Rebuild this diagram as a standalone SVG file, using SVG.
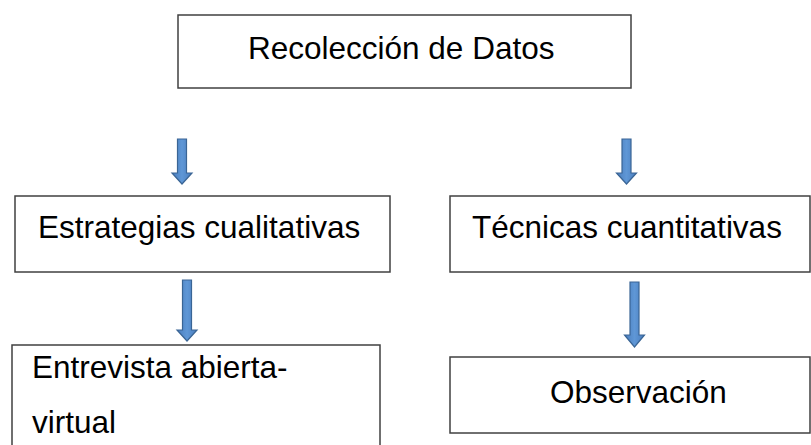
<svg xmlns="http://www.w3.org/2000/svg" width="811" height="445" viewBox="0 0 811 445">
<style>
.box{fill:#ffffff;stroke:#404040;stroke-width:1.5}
.lbl{font-family:"Liberation Sans",Arial,sans-serif;font-size:31.5px;fill:#000000}
.arr{fill:url(#ag);stroke:#3a6595;stroke-width:1.2;stroke-linejoin:miter}
</style>
<defs>
<linearGradient id="ag" x1="0" y1="0" x2="1" y2="0">
<stop offset="0" stop-color="#4a7dbd"/>
<stop offset="0.5" stop-color="#5f97d6"/>
<stop offset="1" stop-color="#4a7dbd"/>
</linearGradient>
</defs>
<rect width="811" height="445" fill="#ffffff"/>
<g id="connectors">
<path class="arr" d="M177.5,139 H186.5 V173 H192 L182,184 L172,173 H177.5 Z"/>
<path class="arr" d="M622,139 H631 V173 H636.5 L626.5,184 L616.5,173 H622 Z"/>
<path class="arr" d="M182.5,280 H191.5 V330 H197 L187,341 L177,330 H182.5 Z"/>
<path class="arr" d="M630,282 H639 V335 H644.5 L634.5,347 L624.5,335 H630 Z"/>
</g>
<g id="recoleccion">
<rect class="box" x="178" y="15" width="453" height="73"/>
<text class="lbl" x="248" y="59">Recolección de Datos</text>
</g>
<g id="estrategias">
<rect class="box" x="15" y="196" width="375" height="76"/>
<text class="lbl" x="38" y="238">Estrategias cualitativas</text>
</g>
<g id="tecnicas">
<rect class="box" x="450" y="196" width="360" height="76"/>
<text class="lbl" x="472" y="238">Técnicas cuantitativas</text>
</g>
<g id="entrevista">
<rect class="box" x="12" y="345" width="368" height="110"/>
<text class="lbl" x="32" y="378">Entrevista abierta-</text>
<text class="lbl" x="32" y="433">virtual</text>
</g>
<g id="observacion">
<rect class="box" x="450" y="357" width="360" height="76"/>
<text class="lbl" x="550" y="403">Observación</text>
</g>
</svg>
